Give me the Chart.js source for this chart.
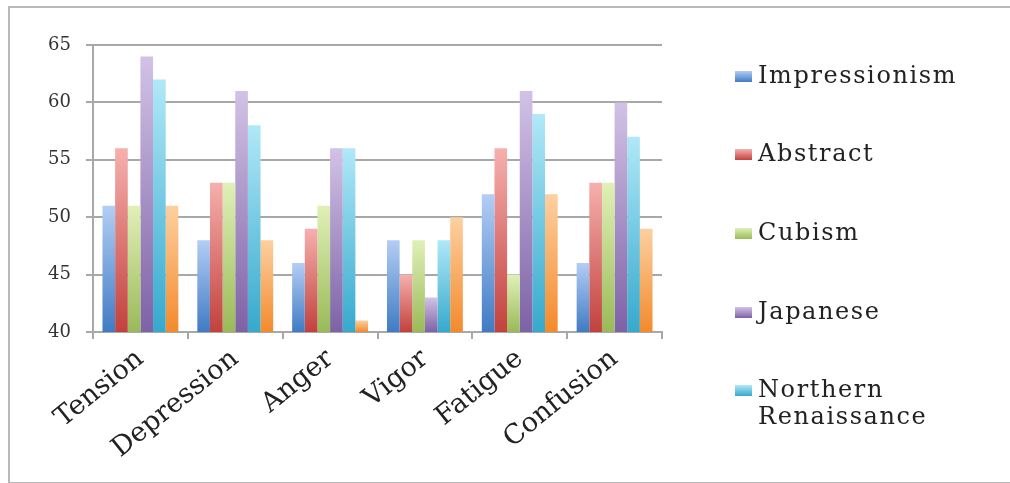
<!DOCTYPE html>
<html>
<head>
<meta charset="utf-8">
<script src="https://cdn.jsdelivr.net/npm/chart.js@4"></script>
<style>
  body { margin: 0; background: #fff; }
  #wrap { position: relative; width: 1010px; height: 483px; overflow: hidden; }
  #frame { position: absolute; left: 8px; top: 6px; width: 1020px; height: 474px; border: 2px solid #b8b8b8; border-right: none; }
  #chart { position: absolute; left: 0; top: 0; }
  #legend { position: absolute; left: 735px; top: 0; font-family: "DejaVu Serif", serif; font-size: 24px; letter-spacing: 1.6px; color: #222; }
  .item { position: absolute; left: 0; white-space: nowrap; }
  .sw { position: absolute; left: 0; width: 17px; height: 11px; }
  .lbl { position: absolute; left: 23px; line-height: 27px; }
</style>
</head>
<body>
<div id="wrap">
  <div id="frame"></div>
  <canvas id="chart" width="1010" height="483"></canvas>
  <div id="legend"></div>
</div>
<script>
// Data
const categories = ["Tension", "Depression", "Anger", "Vigor", "Fatigue", "Confusion"];
const seriesNames = ["Impressionism", "Abstract", "Cubism", "Japanese", "Northern Renaissance", "Series 6"];
const impressionism = [51, 48, 46, 48, 52, 46];
const abstractArt = [56, 53, 49, 45, 56, 53];
const cubism = [51, 53, 51, 48, 45, 53];
const japanese = [64, 61, 56, 43, 61, 60];
const northernRenaissance = [62, 58, 56, 48, 59, 57];
const series6 = [51, 48, 41, 50, 52, 49];
const yTicks = [40, 45, 50, 55, 60, 65];

// light top / dark bottom, like the Excel gradient fill
const colors = [
    ["#b4cdf4", "#3f7bc4"],
    ["#f6b0ae", "#c2413d"],
    ["#e0f0b8", "#9aba58"],
    ["#d2c2e6", "#7d62a6"],
    ["#b0e8f8", "#36a9cc"],
    ["#fdd0a0", "#f38a2c"],
];

function gradient(top, bottom) {
    return (ctx) => {
        const chart = ctx.chart;
        if (!chart.chartArea || ctx.type !== "data") return bottom;
        const y = chart.scales.y;
        const y0 = y.getPixelForValue(ctx.parsed.y);
        const y1 = y.getPixelForValue(yTicks[0]);
        const g = chart.ctx.createLinearGradient(0, y0, 0, y1);
        g.addColorStop(0, top);
        g.addColorStop(1, bottom);
        return g;
    };
}

const allSeries = [impressionism, abstractArt, cubism, japanese, northernRenaissance, series6];
const datasets = allSeries.map((values, i) => ({
    label: seriesNames[i],
    data: values,
    backgroundColor: gradient(colors[i][0], colors[i][1]),
    borderWidth: 0,
    categoryPercentage: 0.8,
    barPercentage: 1.0,
}));

const fontFamily = "'DejaVu Serif', serif";

new Chart(document.getElementById("chart"), {
    type: "bar",
    data: { labels: categories, datasets: datasets },
    options: {
        responsive: false,
        animation: false,
        layout: { padding: { top: 45, right: 348, bottom: 0, left: 0 } },
        plugins: { legend: { display: false }, tooltip: { enabled: false } },
        scales: {
            x: {
                grid: { drawOnChartArea: false, drawTicks: true, tickLength: 7, offset: true, color: "#a8a8a8", lineWidth: 2 },
                border: { color: "#a8a8a8", width: 2 },
                ticks: { color: "#222", font: { family: fontFamily, size: 27 }, minRotation: 39, maxRotation: 39, padding: 4 },
                afterFit: (scale) => { scale.height = 151; },
            },
            y: {
                min: 40,
                max: 65,
                afterBuildTicks: (scale) => { scale.ticks = yTicks.map((v) => ({ value: v })); },
                grid: { color: "#a8a8a8", lineWidth: 2, tickLength: 7 },
                border: { color: "#a8a8a8", width: 2 },
                ticks: { color: "#333", font: { family: fontFamily, size: 18 }, padding: 15 },
                afterFit: (scale) => { scale.width = 93; },
            },
        },
    },
});

// HTML legend (only five entries are visible in the original)
const rowsY = [71, 149, 228, 307, 385];
const legend = document.getElementById("legend");
for (let i = 0; i < 5; i++) {
    const item = document.createElement("div");
    item.className = "item";
    item.style.top = rowsY[i] + "px";
    const sw = document.createElement("div");
    sw.className = "sw";
    sw.style.background = "linear-gradient(" + colors[i][0] + ", " + colors[i][1] + ")";
    const lbl = document.createElement("div");
    lbl.className = "lbl";
    lbl.style.top = "-9px";
    lbl.innerHTML = seriesNames[i].replace(" ", "<br>");
    item.appendChild(sw);
    item.appendChild(lbl);
    legend.appendChild(item);
}
</script>
</body>
</html>
